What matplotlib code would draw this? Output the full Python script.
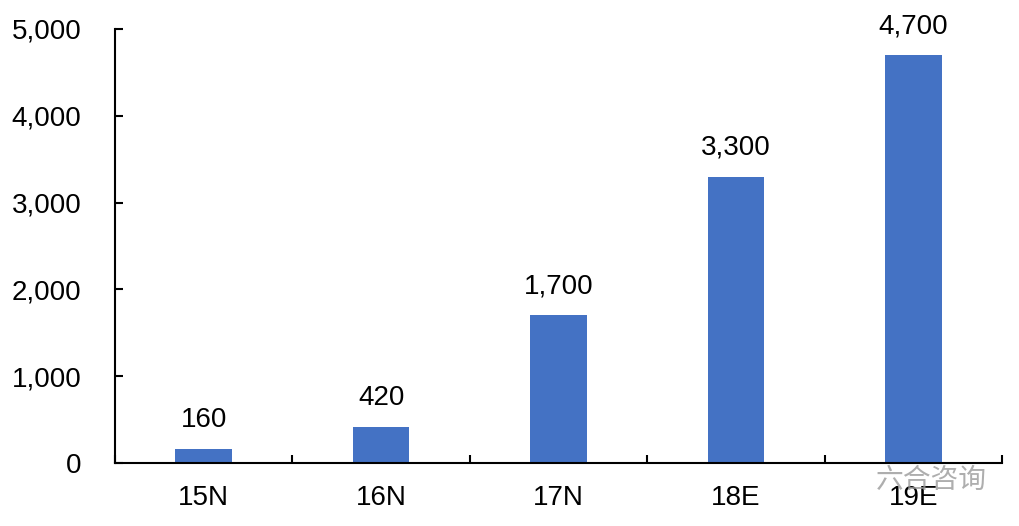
import matplotlib.pyplot as plt
from matplotlib.ticker import FuncFormatter
import numpy as np

# Datos del gráfico
categorias = ['15N', '16N', '17N', '18E', '19E']
valores = [160, 420, 1700, 3300, 4700]

plt.rcParams['font.family'] = ['Liberation Sans', 'DejaVu Sans']

fig = plt.figure(figsize=(10.2, 5.26), dpi=100)
ax = fig.add_axes([0.1127, 0.1198, 0.8697, 0.8251])

x = np.arange(len(categorias))
ax.bar(x, valores, width=0.32, color='#4472C4', zorder=2)

# Etiquetas de valores sobre las barras
for xi, v in zip(x, valores):
    ax.text(xi, v + 180, '{:,}'.format(v), ha='center', va='bottom', fontsize=20)

ax.set_xlim(-0.5, len(categorias) - 0.5)
ax.set_ylim(0, 5000)
ax.set_yticks(range(0, 5001, 1000))
ax.yaxis.set_major_formatter(FuncFormatter(lambda v, p: '{:,}'.format(int(v))))

# Ticks del eje x en los límites de las categorías
ax.set_xticks(np.arange(-0.5, len(categorias), 1))
ax.set_xticklabels([])
ax.set_xticks(x, minor=True)
ax.set_xticklabels(categorias, minor=True)
ax.tick_params(axis='x', which='major', direction='in', length=6, width=1.5)
ax.tick_params(axis='x', which='minor', length=0, pad=16, labelsize=20)
ax.tick_params(axis='y', direction='in', length=6, width=1.5, labelsize=20, pad=24)

for s in ['top', 'right']:
    ax.spines[s].set_visible(False)
for s in ['left', 'bottom']:
    ax.spines[s].set_linewidth(1.5)

# Marca de agua
fig.text(0.967, 0.087, '六合咨询', ha='right', va='center', fontsize=20,
         color='#9a9a9a', alpha=0.8, family=['Noto Sans CJK SC', 'DejaVu Sans'])

fig.savefig('out.png', dpi=100)
